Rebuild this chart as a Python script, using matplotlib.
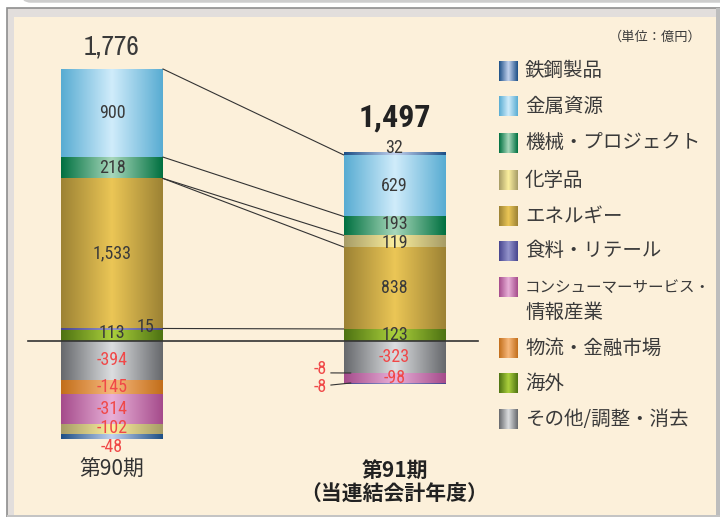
import numpy as np
import matplotlib.pyplot as plt
from matplotlib.colors import LinearSegmentedColormap
from matplotlib.patches import Rectangle, FancyBboxPatch

# data (億円)
periods = ['第90期', '第91期\n（当連結会計年度）']
totals = [1776, 1497]
segments = ['鉄鋼製品', '金属資源', '機械・プロジェクト', '化学品', 'エネルギー',
            '食料・リテール', 'コンシューマーサービス・\n情報産業', '物流・金融市場',
            '海外', 'その他/調整・消去']
fy90 = [-48, 900, 218, -102, 1533, 15, -314, -145, 113, -394]
fy91 = [32, 629, 193, 119, 838, -8, -98, -8, 123, -323]

# stacking order from zero outward
pos_order = [8, 5, 4, 3, 2, 1, 0]
neg_order = [9, 7, 6, 5, 3, 0]

# (edge, centre) colours of the gradient
seg_colors = [('#1d4f86', '#c2d2ee'), ('#58acd2', '#d0ecfb'), ('#007040', '#a8d8bc'),
              ('#a69c66', '#fbef9e'), ('#9c8234', '#ebc656'), ('#47458e', '#9494cc'),
              ('#a54b8b', '#e8b0d8'), ('#c26e1a', '#f7b87c'), ('#4d7212', '#abd03c'),
              ('#66686c', '#dcdee0')]

num_font = ['Archivo Narrow', 'Roboto Condensed', 'DejaVu Sans']
lab_font = ['Roboto Condensed', 'DejaVu Sans']
jp_font = ['Noto Sans CJK JP', 'DejaVu Sans']
txt_col = '#3a3a3a'
neg_col = '#f04848'

K = 10.217          # units per pixel
W = 0.361           # bar width
xs = [0, 1]

fig = plt.figure(figsize=(7.2, 5.17), dpi=100)

# background panel (pixel coords)
bg = fig.add_axes([0, 0, 1, 1], zorder=0)
bg.axis('off')
bg.add_patch(FancyBboxPatch((22, -14), 720, 15, boxstyle='round,pad=0,rounding_size=9',
                            fc='white', ec='#cdcdcd', lw=2.5))
bg.add_patch(Rectangle((7, 8), 720, 520, fc='#e2dedc', ec='#8e8e8e', lw=1.2))
bg.add_patch(Rectangle((14, 17), 702, 498, fc='#fcf0da', ec='none'))
bg.add_patch(Rectangle((716, 8), 10, 520, fc='#bdbdbd', ec='none'))
bg.add_patch(Rectangle((7, 515), 720, 10, fc='#c4c4c4', ec='none'))
bg.text(702, 37, '（単位：億円）', ha='right', va='center', fontsize=9.5,
        color=txt_col, family=jp_font)

grad = np.linspace(0, 1, 256)[None, :]


def cmap_for(i):
    e, c = seg_colors[i]
    return LinearSegmentedColormap.from_list('g%d' % i, [e, c, e])


# legend
leg_y = [71, 106, 143, 180, 216, 251, 287, 348, 383, 419]
for i, name in enumerate(segments):
    cy = leg_y[i]
    bg.imshow(grad, cmap=cmap_for(i), extent=(499, 518, cy + 10, cy - 10),
              aspect='auto', interpolation='bilinear', zorder=3)
    for k, line in enumerate(name.split('\n')):
        size = 11.2 if len(line) > 10 else 14
        bg.text(525, cy + k * 25, line, ha='left', va='center', fontsize=size,
                color=txt_col, family=jp_font, zorder=3)
bg.set_xlim(0, 720)
bg.set_ylim(517, 0)

# main chart
ax = fig.add_axes([0, 0, 1, 1], zorder=1)
ax.patch.set_alpha(0)
ax.axis('off')

# small nudges for crowded labels (points)
nudge = {(1, 0): (0, 4), (0, 5): (24, 1.5), (0, 8): (0, 1.5), (0, 0): (0, -7),
         (0, 3): (0, 1), (1, 2): (0, 1), (1, 3): (0, -1)}

tops = {}
for j, vals in enumerate([fy90, fy91]):
    x = xs[j]
    for order in (pos_order, neg_order):
        base = 0
        for i in order:
            v = vals[i]
            if (v > 0) != (order is pos_order) or v == 0:
                continue
            bar = ax.bar(x, v, W, bottom=base, color=seg_colors[i][1],
                         edgecolor='none', zorder=2)[0]
            im = ax.imshow(grad, cmap=cmap_for(i),
                           extent=(x - W / 2, x + W / 2, min(base, base + v), max(base, base + v)),
                           aspect='auto', interpolation='bilinear', zorder=2)
            im.set_clip_path(bar)
            tops[(j, i)] = base + v
            if not (j == 1 and i in (5, 7)):
                ax.annotate(f'{v:,}', (x, base + v / 2), xytext=nudge.get((j, i), (0, 0)),
                            textcoords='offset points', ha='center', va='center',
                            fontsize=13, color=txt_col if v > 0 else neg_col,
                            family=lab_font, zorder=5)
            base += v

# small -8 labels with leader lines on the right bar
for i, ty, ly in [(7, -286, -327), (5, -470, -429)]:
    ax.text(0.736, ty, f'{fy91[i]:,}', ha='center', va='center', fontsize=13,
            color=neg_col, family=lab_font, zorder=5)
    ax.plot([0.775, 0.845], [ty - 40 if ty > ly else ty + 20, ly], color='#333333',
            lw=0.8, zorder=5)

# totals above bars
pos_top = [sum(v for v in vals if v > 0) for vals in (fy90, fy91)]
ax.annotate(f'{totals[0]:,}', (xs[0], pos_top[0]), xytext=(0, 16), textcoords='offset points',
            ha='center', va='center', fontsize=19.5, color=txt_col, family=num_font)
ax.annotate(f'{totals[1]:,}', (xs[1], pos_top[1]), xytext=(0, 24.5), textcoords='offset points',
            ha='center', va='center', fontsize=23, fontweight='bold', color='#222222',
            family=lab_font)

# connectors between the bars
xl, xr = xs[0] + W / 2, xs[1] - W / 2
links = [(tops[(0, 1)], tops[(1, 1)]), (tops[(0, 2)], tops[(1, 2)]),
         (tops[(0, 4)], tops[(1, 3)]), (tops[(0, 4)], tops[(1, 4)]),
         (tops[(0, 5)], tops[(1, 8)])]
for a, b in links:
    ax.plot([xl, xr], [a, b], color='#333333', lw=0.8, zorder=4)

# zero line
ax.plot([-0.297, 1.296], [0, 0], color='#333333', lw=1.2, zorder=4)

# period labels
for j, name in enumerate(periods):
    for k, line in enumerate(name.split('\n')):
        ax.text(xs[j], -1318 - k * 24 * K, line, ha='center', va='center', fontsize=15,
                color='#333333' if j == 0 else '#222222',
                fontweight='normal' if j == 0 else 'bold', family=jp_font)

ax.set_xlim(-112 / 282.5, 608 / 282.5)
ax.set_ylim(-176 * K, 341 * K)

fig.savefig('out.png', dpi=100)
